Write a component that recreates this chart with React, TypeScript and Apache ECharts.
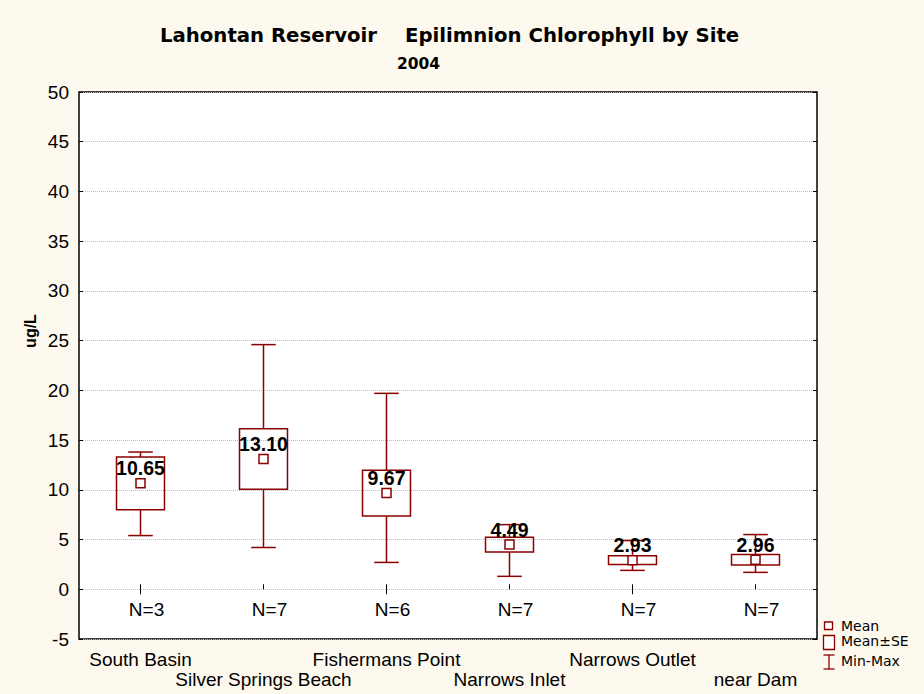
import React, { useEffect, useRef } from "react";
import * as echarts from "echarts";

const sites = [
  "South Basin",
  "Silver Springs Beach",
  "Fishermans Point",
  "Narrows Inlet",
  "Narrows Outlet",
  "near Dam",
];
const means = [10.65, 13.1, 9.67, 4.49, 2.93, 2.96];
const stdErrs = [2.65, 3.05, 2.3, 0.75, 0.45, 0.53];
const mins = [5.4, 4.2, 2.7, 1.3, 1.9, 1.7];
const maxs = [13.8, 24.6, 19.7, 6.5, 4.9, 5.5];
const counts = [3, 7, 6, 7, 7, 7];
const yMin = -5;
const yMax = 50;
const yStep = 5;

const titleLeft = "Lahontan Reservoir";
const titleRight = "Epilimnion Chlorophyll by Site";
const subTitle = "2004";
const yName = "ug/L";
const legendLabels = ["Mean", "Mean\u00B1SE", "Min-Max"];

const RED = "#8b0000";
const BG = "#fdf9ee";
const SANS = "'Liberation Sans', Arial, Helvetica, sans-serif";
const WIDE = "'DejaVu Sans', Verdana, sans-serif";

export default function App() {
  const ref = useRef<HTMLDivElement>(null);
  useEffect(() => {
    document.body.style.margin = "0";
    document.body.style.background = BG;
    const chart = echarts.init(ref.current!, null, { renderer: "svg" });
    const data = sites.map((s, i) => [
      i,
      means[i],
      means[i] - stdErrs[i],
      means[i] + stdErrs[i],
      mins[i],
      maxs[i],
      counts[i],
    ]);
    const lineStyle = { stroke: RED, lineWidth: 1.5, fill: "none" };
    const option: any = {
      animation: false,
      backgroundColor: BG,
      grid: {
        left: 79,
        right: 107,
        top: 92,
        bottom: 55,
        show: true,
        backgroundColor: "#ffffff",
        borderColor: "#000",
        borderWidth: 1.5,
      },
      xAxis: [
        {
          type: "category",
          data: sites,
          boundaryGap: true,
          axisLine: { show: false },
          axisTick: { show: true, inside: true, alignWithLabel: true, length: 5, lineStyle: { color: "#000" } },
          axisLabel: {
            interval: 0,
            hideOverlap: false,
            fontFamily: SANS,
            fontSize: 19,
            lineHeight: 20,
            color: "#000",
            margin: 10,
            formatter: (v: string, idx: number) => (idx % 2 === 0 ? v : "\n" + v),
          },
          splitLine: { show: false },
        },
        {
          type: "category",
          position: "top",
          data: sites,
          boundaryGap: true,
          axisLine: { show: false },
          axisTick: { show: true, inside: true, alignWithLabel: true, length: 5, lineStyle: { color: "#000" } },
          axisLabel: { show: false },
        },
      ],
      yAxis: [
        {
          type: "value",
          min: yMin,
          max: yMax,
          interval: yStep,
          axisLine: { show: false },
          axisTick: { show: true, inside: true, length: 4, lineStyle: { color: "#000" } },
          axisLabel: { fontFamily: SANS, fontSize: 19, color: "#000", margin: 10 },
          splitLine: { show: true, lineStyle: { color: "#bdbdbd", type: "dotted", width: 1 } },
        },
        {
          type: "value",
          position: "right",
          min: yMin,
          max: yMax,
          interval: yStep,
          axisLine: { show: false },
          axisTick: { show: true, inside: true, length: 4, lineStyle: { color: "#000" } },
          axisLabel: { show: false },
          splitLine: { show: false },
        },
      ],
      series: [
        {
          type: "custom",
          xAxisIndex: 0,
          yAxisIndex: 0,
          data,
          z: 5,
          renderItem: (params: any, api: any) => {
            const i = api.value(0);
            const mean = api.value(1);
            const lo = api.value(2);
            const hi = api.value(3);
            const mn = api.value(4);
            const mx = api.value(5);
            const n = api.value(6);
            const [cx, yMean] = api.coord([i, mean]);
            const yLo = api.coord([i, lo])[1];
            const yHi = api.coord([i, hi])[1];
            const yMn = api.coord([i, mn])[1];
            const yMx = api.coord([i, mx])[1];
            const yN = api.coord([i, -2.07])[1];
            const band = api.size([1, 0])[0];
            const bw = band * 0.39;
            const cw = band * 0.2;
            const ms = 9;
            return {
              type: "group",
              children: [
                { type: "line", shape: { x1: cx, y1: yMx, x2: cx, y2: yHi }, style: lineStyle },
                { type: "line", shape: { x1: cx, y1: yLo, x2: cx, y2: yMn }, style: lineStyle },
                { type: "line", shape: { x1: cx - cw / 2, y1: yMx, x2: cx + cw / 2, y2: yMx }, style: lineStyle },
                { type: "line", shape: { x1: cx - cw / 2, y1: yMn, x2: cx + cw / 2, y2: yMn }, style: lineStyle },
                {
                  type: "rect",
                  shape: { x: cx - bw / 2, y: yHi, width: bw, height: yLo - yHi },
                  style: lineStyle,
                },
                {
                  type: "rect",
                  shape: { x: cx - ms / 2, y: yMean - ms / 2, width: ms, height: ms },
                  style: { stroke: RED, lineWidth: 1.5, fill: "#fff" },
                },
                {
                  type: "text",
                  x: cx,
                  y: yMean - 15,
                  z2: 10,
                  style: {
                    text: mean.toFixed(2),
                    fontFamily: SANS,
                    fontWeight: "bold",
                    fontSize: 19.5,
                    fill: "#000",
                    align: "center",
                    verticalAlign: "middle",
                  },
                },
                {
                  type: "text",
                  x: cx + 6,
                  y: yN,
                  style: {
                    text: "N=" + n,
                    fontFamily: SANS,
                    fontSize: 19,
                    fill: "#000",
                    align: "center",
                    verticalAlign: "middle",
                  },
                },
              ],
            };
          },
        },
      ],
      graphic: [
        {
          type: "text",
          left: 160,
          top: 25,
          style: { text: titleLeft, fontFamily: WIDE, fontWeight: "bold", fontSize: 19.7, fill: "#000" },
        },
        {
          type: "text",
          left: 405,
          top: 25,
          style: { text: titleRight, fontFamily: WIDE, fontWeight: "bold", fontSize: 19.7, fill: "#000" },
        },
        {
          type: "text",
          left: 397,
          top: 56,
          style: { text: subTitle, fontFamily: WIDE, fontWeight: "bold", fontSize: 15.5, fill: "#000" },
        },
        {
          type: "text",
          x: 30,
          y: 331,
          rotation: Math.PI / 2,
          style: {
            text: yName,
            fontFamily: SANS,
            fontWeight: "bold",
            fontSize: 16,
            fill: "#000",
            align: "center",
            verticalAlign: "middle",
          },
        },
        {
          type: "rect",
          shape: { x: 824.5, y: 622, width: 8, height: 7.5 },
          style: { stroke: RED, lineWidth: 1.3, fill: "#fff" },
        },
        {
          type: "rect",
          shape: { x: 823.5, y: 635.5, width: 11, height: 14 },
          style: { stroke: RED, lineWidth: 1.3, fill: "#fff" },
        },
        { type: "line", shape: { x1: 829, y1: 655, x2: 829, y2: 669 }, style: { stroke: RED, lineWidth: 1.3 } },
        { type: "line", shape: { x1: 823.5, y1: 655, x2: 834.5, y2: 655 }, style: { stroke: RED, lineWidth: 1.3 } },
        { type: "line", shape: { x1: 823.5, y1: 669, x2: 834.5, y2: 669 }, style: { stroke: RED, lineWidth: 1.3 } },
        {
          type: "text",
          x: 841,
          y: 626,
          style: { text: legendLabels[0], fontFamily: WIDE, fontSize: 14, fill: "#000", verticalAlign: "middle" },
        },
        {
          type: "text",
          x: 841,
          y: 641,
          style: { text: legendLabels[1], fontFamily: WIDE, fontSize: 14, fill: "#000", verticalAlign: "middle" },
        },
        {
          type: "text",
          x: 841,
          y: 660.5,
          style: { text: legendLabels[2], fontFamily: WIDE, fontSize: 14, fill: "#000", verticalAlign: "middle" },
        },
      ],
    };
    chart.setOption(option);
    return () => chart.dispose();
  }, []);
  return <div ref={ref} style={{ width: 924, height: 694 }} />;
}
